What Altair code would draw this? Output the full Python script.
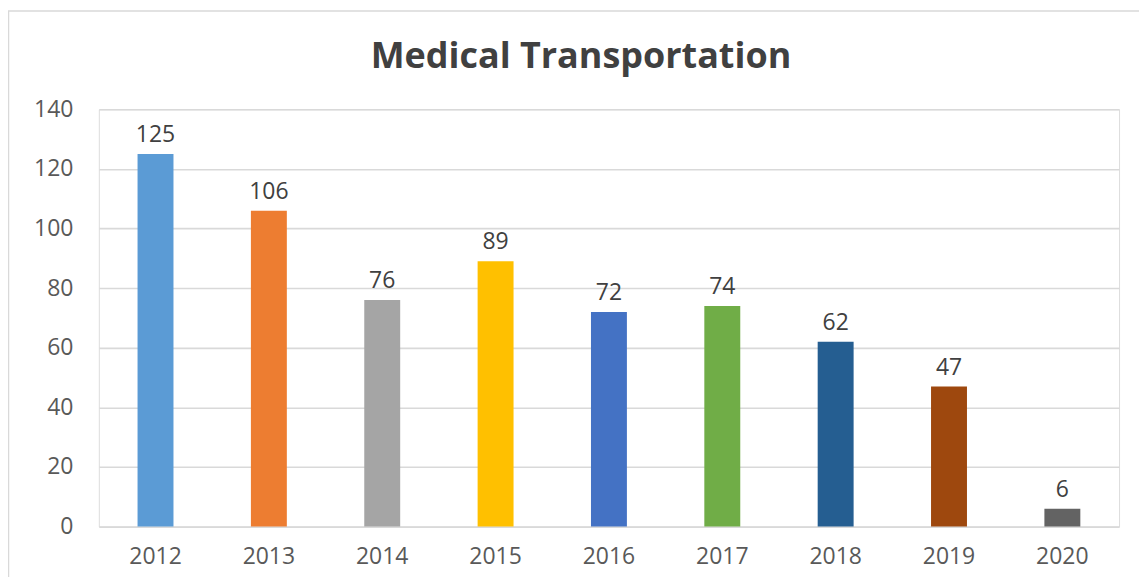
import altair as alt
import pandas as pd

years = ["2012", "2013", "2014", "2015", "2016", "2017", "2018", "2019", "2020"]
values = [125, 106, 76, 89, 72, 74, 62, 47, 6]
colors = ["#5B9BD5", "#ED7D31", "#A5A5A5", "#FFC000", "#4472C4", "#70AD47", "#255E91", "#9E480E", "#636363"]

df = pd.DataFrame({"year": years, "value": values})

FONT = "Open Sans"
W, H = 1022, 418

x_enc = alt.X("year:N", sort=years, title=None,
              scale=alt.Scale(paddingInner=0.683, paddingOuter=0.3415),
              axis=alt.Axis(labelAngle=0, ticks=False, domain=False, labelPadding=19,
                            labelFontSize=23, labelColor="#595959", labelFont=FONT, grid=False))
y_enc = alt.Y("value:Q", title=None,
              scale=alt.Scale(domain=[0, 140], nice=False),
              axis=alt.Axis(values=[0, 20, 40, 60, 80, 100, 120, 140], ticks=False, domain=False,
                            labelPadding=26, labelFontSize=23, labelColor="#595959", labelFont=FONT,
                            gridColor="#D9D9D9", gridWidth=1.6))

bars = alt.Chart(df).mark_bar().encode(
    x=x_enc, y=y_enc,
    color=alt.Color("year:N", scale=alt.Scale(domain=years, range=colors), legend=None),
)

labels = alt.Chart(df).mark_text(dy=-19, fontSize=23, color="#404040", font=FONT).encode(
    x=alt.X("year:N", sort=years), y="value:Q", text="value:Q"
)

frame = alt.Chart(pd.DataFrame({"a": [0]})).mark_rect(
    fill=None, stroke="#D9D9D9", strokeWidth=1.5, clip=False
).encode(x=alt.value(-90.5), x2=alt.value(W + 60), y=alt.value(-98.5), y2=alt.value(H + 70))

title = alt.Chart(pd.DataFrame({"t": ["Medical Transportation"]})).mark_text(
    fontSize=36, fontWeight="bold", color="#404040", font=FONT, baseline="middle"
).encode(x=alt.value(582 - 99), y=alt.value(-52), text="t:N")

chart = alt.layer(frame, bars, labels, title).properties(
    width=W, height=H,
    autosize=alt.AutoSizeParams(type="none"),
    padding={"left": 91, "top": 101, "right": 20, "bottom": 50},
).configure_view(stroke=None).configure(background="white")

chart.save("out.html", embed_options={"renderer": "svg", "actions": False})
